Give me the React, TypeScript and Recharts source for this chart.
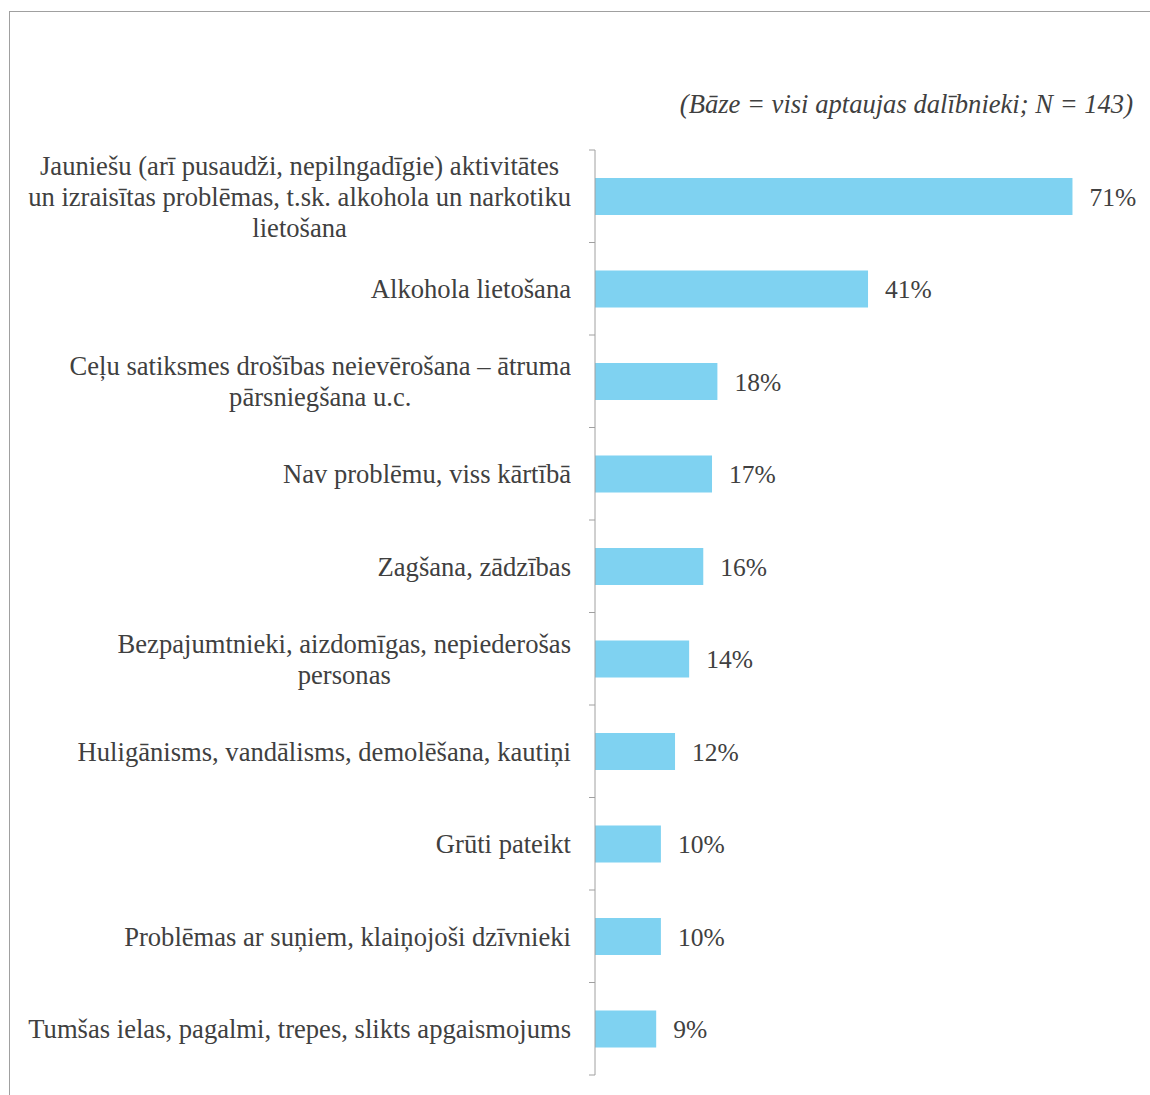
import React from "react";
import { BarChart, Bar, XAxis, YAxis, LabelList } from "recharts";

// ─── Data ─────────────────────────────────────────────────────────────────────
const categories = [
  "Jauniešu (arī pusaudži, nepilngadīgie) aktivitātes\nun izraisītas problēmas, t.sk. alkohola un narkotiku\nlietošana",
  "Alkohola lietošana",
  "Ceļu satiksmes drošības neievērošana – ātruma\npārsniegšana u.c.",
  "Nav problēmu, viss kārtībā",
  "Zagšana, zādzības",
  "Bezpajumtnieki, aizdomīgas, nepiederošas\npersonas",
  "Huligānisms, vandālisms, demolēšana, kautiņi",
  "Grūti pateikt",
  "Problēmas ar suņiem, klaiņojoši dzīvnieki",
  "Tumšas ielas, pagalmi, trepes, slikts apgaismojums",
];

const shares = [71.0, 40.6, 18.2, 17.4, 16.1, 14.0, 11.9, 9.8, 9.8, 9.1];

const subtitle = "(Bāze = visi aptaujas dalībnieki; N = 143)";

const data = categories.map((name, i) => ({ name, value: shares[i] }));

const FONT = '"Liberation Serif", "Times New Roman", serif';
const TEXT = "#404040";
const BAR = "#7fd2f1";
const AXIS = "#a0a0a0";
const SIZE = 26.6;

const W = 1150;
const H = 1095;
const MARGIN = { top: 150, right: 17, bottom: 20, left: 0 };
const TICK_SIZE = 6;
const TICK_MARGIN = 18;
const BAND = (H - MARGIN.top - MARGIN.bottom) / categories.length;

// category label: right-aligned block, lines centred inside it;
// tick marks sit on the band edges, not the band centres
function CategoryTick({ x, y, payload, index }: any) {
  const w = 570;
  const ax = x + TICK_SIZE + TICK_MARGIN;
  const last = index === categories.length - 1;
  return (
    <g>
      <line x1={ax - TICK_SIZE} x2={ax} y1={y - BAND / 2} y2={y - BAND / 2} stroke={AXIS} />
      {last && (
        <line x1={ax - TICK_SIZE} x2={ax} y1={y + BAND / 2} y2={y + BAND / 2} stroke={AXIS} />
      )}
      <foreignObject x={x - w} y={y - 59} width={w} height={120}>
        <div
          style={{
            width: "100%",
            height: "100%",
            display: "flex",
            alignItems: "center",
            justifyContent: "flex-end",
          }}
        >
          <span
            style={{
              whiteSpace: "pre-line",
              textAlign: "center",
              fontFamily: FONT,
              fontSize: SIZE,
              lineHeight: "31px",
              color: TEXT,
            }}
          >
            {payload.value}
          </span>
        </div>
      </foreignObject>
    </g>
  );
}

export default function App() {
  return (
    <div
      style={{
        position: "fixed",
        left: 0,
        top: 0,
        width: W,
        height: H,
        background: "#fff",
        overflow: "hidden",
      }}
    >
      <div
        style={{
          position: "absolute",
          left: 9,
          top: 11,
          right: 0,
          bottom: 0,
          borderLeft: `1px solid ${AXIS}`,
          borderTop: `1px solid ${AXIS}`,
        }}
      />
      <div
        style={{
          position: "absolute",
          right: 17,
          top: 89,
          fontFamily: FONT,
          fontStyle: "italic",
          fontSize: SIZE,
          lineHeight: "31px",
          color: TEXT,
          whiteSpace: "nowrap",
        }}
      >
        {subtitle}
      </div>
      <div style={{ position: "absolute", left: 0, top: 0 }}>
        <BarChart width={W} height={H} data={data} layout="vertical" margin={MARGIN}>
          <XAxis type="number" domain={[0, 80]} hide />
          <YAxis
            type="category"
            dataKey="name"
            width={595}
            interval={0}
            tickLine={false}
            axisLine={{ stroke: AXIS }}
            tickSize={TICK_SIZE}
            tickMargin={TICK_MARGIN}
            tick={<CategoryTick />}
          />
          <Bar dataKey="value" fill={BAR} barSize={37} isAnimationActive={false}>
            <LabelList
              dataKey="value"
              position="right"
              offset={17}
              formatter={(v: any) => `${Math.round(Number(v))}%`}
              style={{ fontFamily: FONT, fontSize: 25.5, fill: TEXT }}
            />
          </Bar>
        </BarChart>
      </div>
    </div>
  );
}
